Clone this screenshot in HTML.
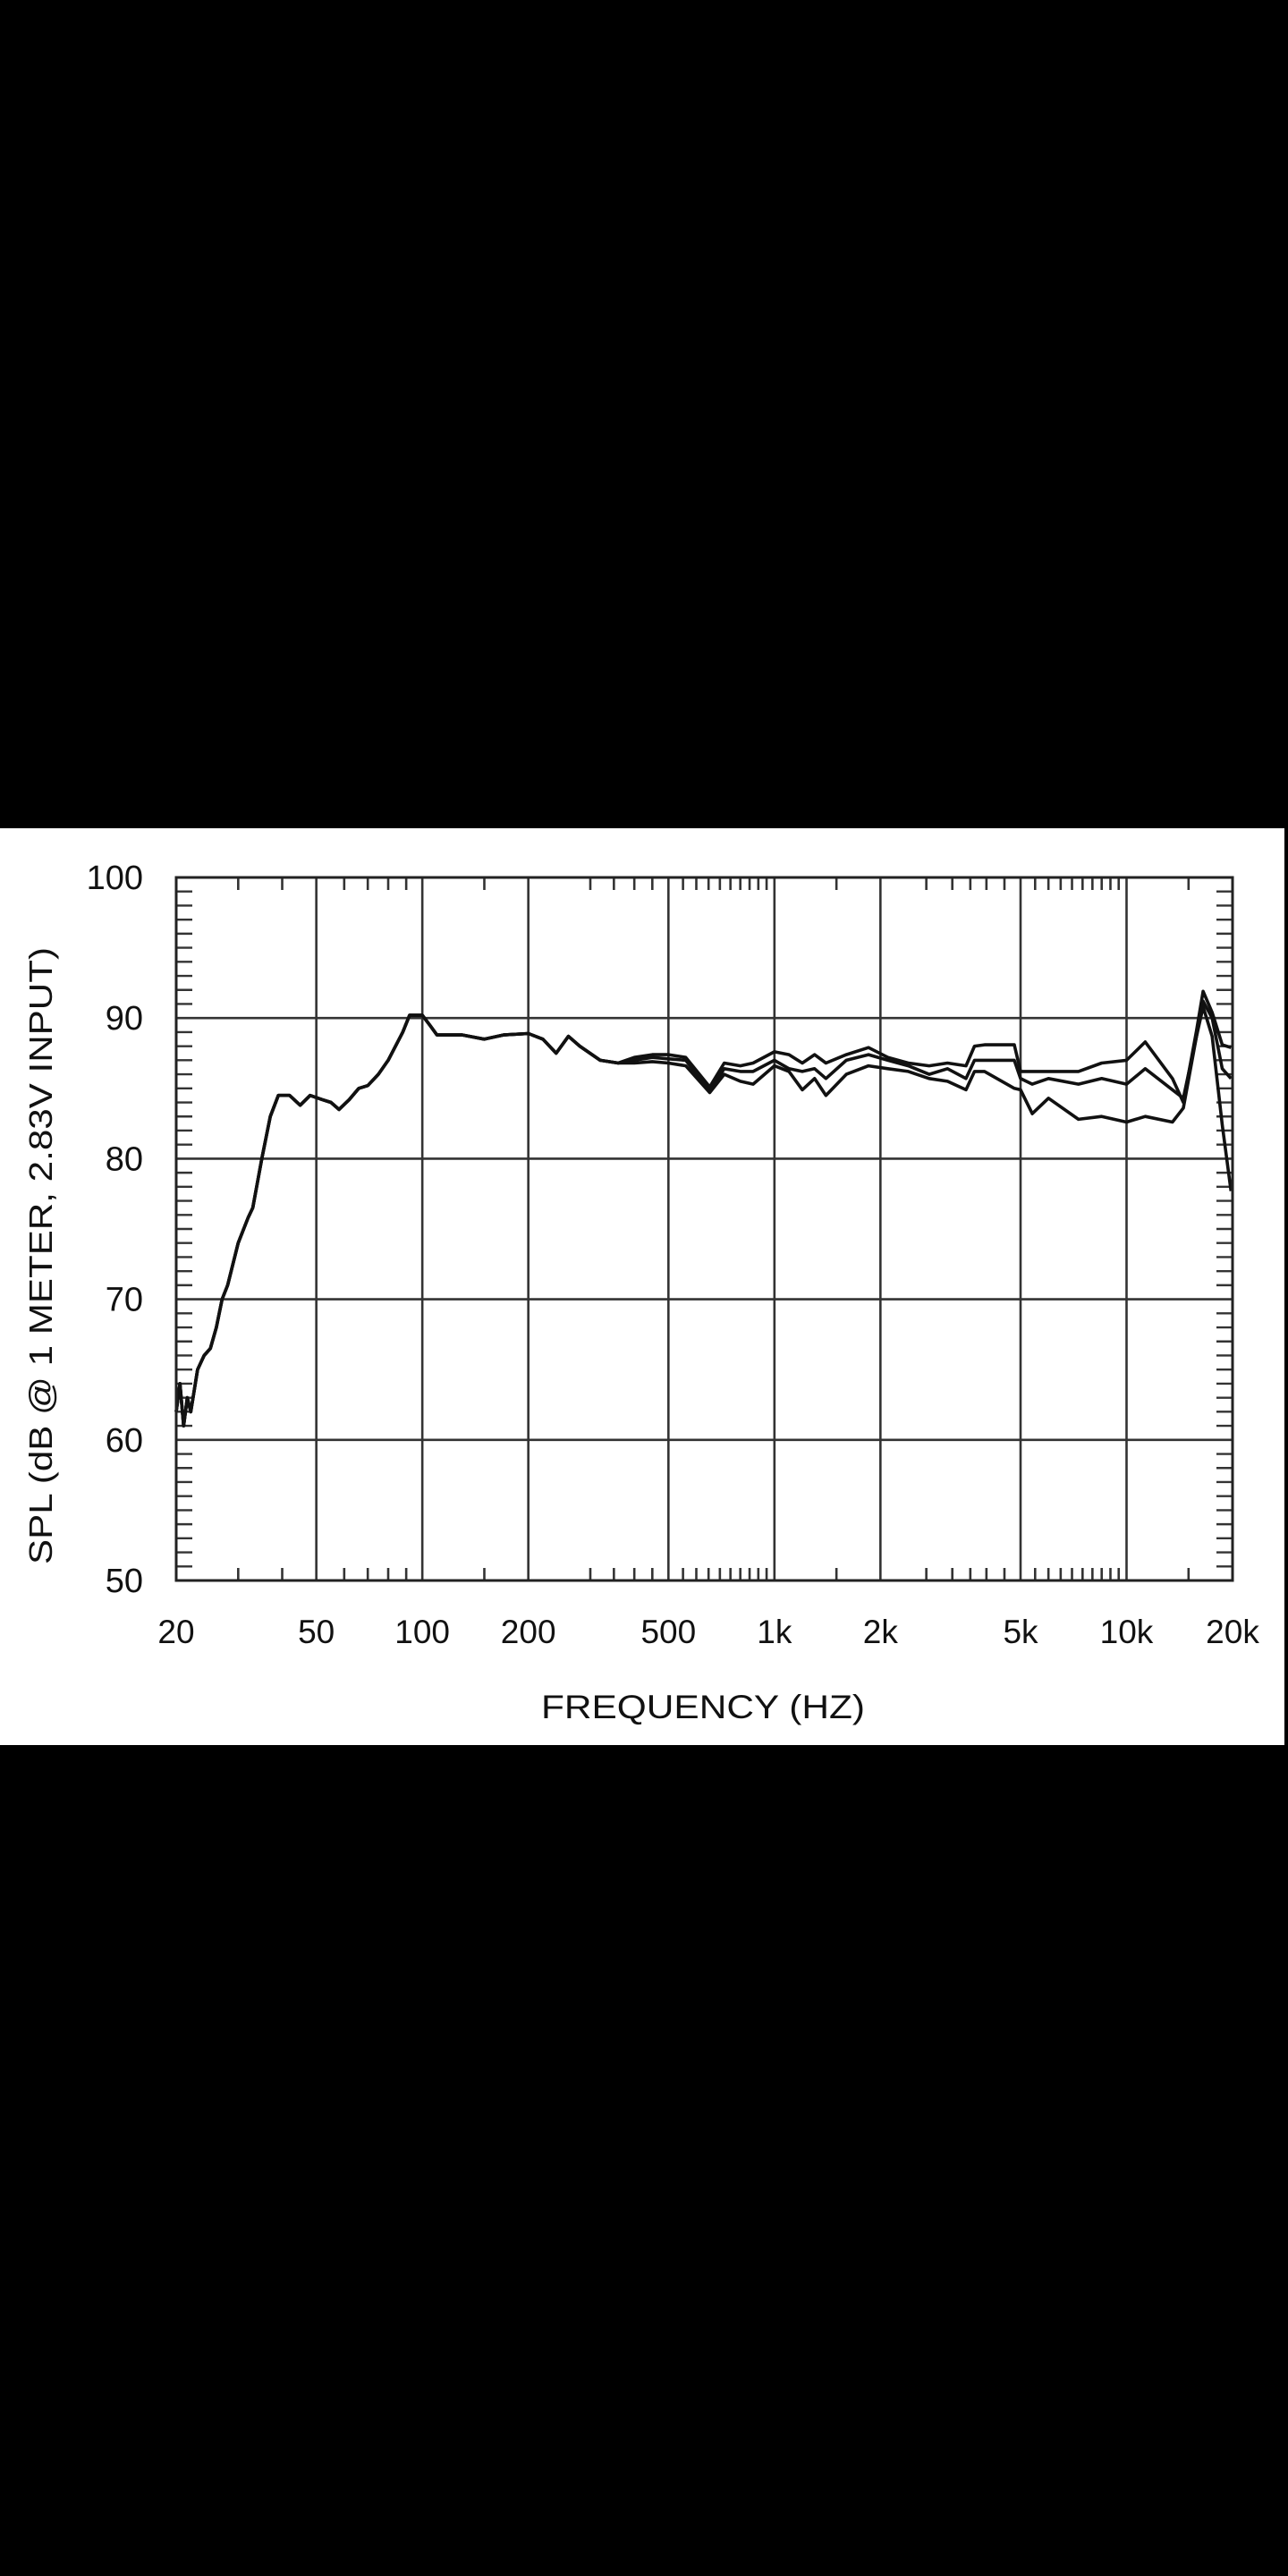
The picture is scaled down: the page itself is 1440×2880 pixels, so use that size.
<!DOCTYPE html>
<html><head><meta charset="utf-8"><style>
html,body{margin:0;padding:0;background:#000;width:1440px;height:2880px;overflow:hidden}
svg{display:block}
text{font-family:"Liberation Sans",Arial,sans-serif;fill:#111}
</style></head><body>
<svg id="chart" width="1440" height="2880" viewBox="0 0 1440 2880">
<rect x="0" y="0" width="1440" height="2880" fill="#000"/>
<rect x="0" y="926" width="1436" height="1025" fill="#fff"/>
<g id="grid"></g>
<g id="ticks"></g>
<g id="series"></g>
<rect x="197" y="981" width="1181" height="786" fill="none" stroke="#222" stroke-width="3"/>
<g id="labels"></g>
<text x="786" y="1921" font-size="37" text-anchor="middle" textLength="362" lengthAdjust="spacingAndGlyphs">FREQUENCY  (HZ)</text>
<text transform="translate(58,1404) rotate(-90)" font-size="36" text-anchor="middle" textLength="690" lengthAdjust="spacingAndGlyphs">SPL (dB @ 1 METER, 2.83V INPUT)</text>
</svg>
<script>
const freqs=[20,20.5,21,21.5,22,23,24,25,26,27,28,30,32,33,35,37,39,42,45,48,52,55,58,62,66,70,75,80,88,92,100,105,110,130,150,170,200,220,240,260,280,320,360,400,450,
500,560,655,720,800,870,1000,1100,1200,1300,1400,1600,1850,2100,2400,2750,3100,3500,3700,3950,4800,5000,5400,6000,7300,8500,10000,11300,13500,14500,15800,16500,17500,18700,19800];
const lowShared=[62,64,61,63,62,65,66,66.5,68,70,71,74,75.8,76.5,80,83,84.5,84.5,83.8,84.5,84.2,84,83.5,84.2,85,85.2,86,87,89,90.2,90.2,89.5,88.8,88.8,88.5,88.8,88.9,88.5,87.5,88.7,88,87,86.8];
const seriesA=lowShared.concat([87.2,87.4,87.4,87.2,85.1,86.8,86.6,86.8,87.6,87.4,86.8,87.4,86.8,87.4,87.9,87.2,86.8,86.6,86.8,86.6,88.0,88.1,88.1,86.2,86.2,86.2,86.2,86.8,87.0,88.3,85.7,84.0,89.1,91.9,90.4,88.1,87.9]);
const seriesB=lowShared.concat([87.0,87.2,87.1,87.0,84.8,86.4,86.2,86.2,87.0,86.4,86.2,86.4,85.7,87.0,87.4,87.0,86.6,86.0,86.4,85.7,87.0,87.0,87.0,85.7,85.3,85.7,85.3,85.7,85.3,86.4,84.9,84.3,88.7,91.2,90.0,86.4,85.7]);
const seriesC=lowShared.concat([86.8,86.9,86.8,86.6,84.7,86.0,85.5,85.3,86.6,86.2,84.9,85.7,84.5,86.0,86.6,86.4,86.2,85.7,85.5,84.9,86.2,86.2,85.0,84.9,83.2,84.3,82.8,83.0,82.6,83.0,82.6,83.6,88.7,90.8,88.7,82.4,77.7]);
const xTickLabels=["20","50","100","200","500","1k","2k","5k","10k","20k"];
const xTickValues=[20,50,100,200,500,1000,2000,5000,10000,20000];
const yTickValues=[50,60,70,80,90,100];
const xMinorTicks=[30,40,60,70,80,90,150,300,350,400,450,550,600,650,700,750,800,850,900,950,1500,2700,3200,3600,4000,4500,5500,6000,6500,7000,7500,8000,8500,9000,9500,15000];

const L=197,R=1378,T=981,B=1767;
const xs=f=>L+(R-L)*Math.log10(f/20)/3;
const ys=v=>B-(v-50)/50*(B-T);
const NS="http://www.w3.org/2000/svg";
function mk(tag,attrs,parent){const e=document.createElementNS(NS,tag);for(const k in attrs)e.setAttribute(k,attrs[k]);parent.appendChild(e);return e;}
const grid=document.getElementById('grid'),ticks=document.getElementById('ticks'),labels=document.getElementById('labels'),series=document.getElementById('series');

xTickValues.forEach((f,i)=>{
  if(i>0&&i<xTickValues.length-1){
    const g=mk('line',{x1:xs(f),x2:xs(f),y1:T,y2:B,stroke:'#333','stroke-width':2.6},grid);
    
    
  }
  const t=mk('text',{x:xs(f),y:1837,'font-size':37,'text-anchor':'middle'},labels);
  t.textContent=xTickLabels[i];
  
  
});
yTickValues.forEach(v=>{
  if(v>50&&v<100){
    const g=mk('line',{x1:L,x2:R,y1:ys(v),y2:ys(v),stroke:'#333','stroke-width':2.6},grid);
    
    
  }
  const t=mk('text',{x:160,y:ys(v)+13,'font-size':38,'text-anchor':'end'},labels);
  t.textContent=String(v);
  
  
});
for(let v=51;v<100;v++){
  if(v%10===0)continue;
  const a=mk('line',{x1:L,x2:L+18,y1:ys(v),y2:ys(v),stroke:'#333','stroke-width':2.4},ticks);
  
  
  const b=mk('line',{x1:R-18,x2:R,y1:ys(v),y2:ys(v),stroke:'#333','stroke-width':2.4},ticks);
  
  
}
xMinorTicks.forEach(f=>{
  const a=mk('line',{x1:xs(f),x2:xs(f),y1:T,y2:T+14,stroke:'#333','stroke-width':2.6},ticks);
  
  
  const b=mk('line',{x1:xs(f),x2:xs(f),y1:B-14,y2:B,stroke:'#333','stroke-width':2.6},ticks);
  
  
});
[[seriesA,'series-a-line'],[seriesB,'series-b-line'],[seriesC,'series-c-line']].forEach(([vals,name])=>{
  const d=vals.map((v,i)=>(i?'L':'M')+xs(freqs[i]).toFixed(1)+','+ys(v).toFixed(1)).join(' ');
  const p=mk('path',{d:d,fill:'none',stroke:'#111','stroke-width':3.6,'stroke-linejoin':'round'},series);
  
  
});
</script>
</body></html>
